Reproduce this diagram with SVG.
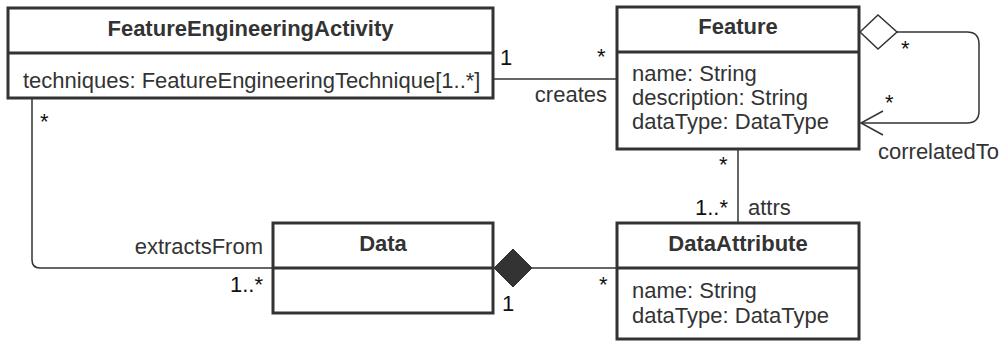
<svg xmlns="http://www.w3.org/2000/svg" width="1001" height="341" viewBox="0 0 1001 341">
<style>
.box{fill:#fff;stroke:#333;stroke-width:3}
.div{stroke:#333;stroke-width:3}
.t{font-family:"Liberation Sans",Arial,sans-serif;font-size:22px;fill:#333}
.b{font-weight:bold}
.m{font-family:"Liberation Sans",Arial,sans-serif;font-size:22px;fill:#111}
.c{fill:none;stroke:#333;stroke-width:1.5}
</style>
<rect width="1001" height="341" fill="#fff"/>
<g id="connectors">
<path class="c" d="M493 79 H617"/>
<path class="c" d="M32 99 V260 Q32 268 40 268 H273"/>
<path class="c" d="M532 268 H617"/>
<path d="M494 268 L513 249 L532 268 L513 287 Z" fill="#333" stroke="#333" stroke-width="1"/>
<path class="c" d="M738 150 V223"/>
<path class="c" d="M897 32 H967 Q979 32 979 44 V111 Q979 123 967 123 H861"/>
<path class="c" d="M883 111 L861 123 L883 135"/>
<path d="M860 32 L878 15 L897 32 L878 49 Z" fill="#fff" stroke="#333" stroke-width="1.5"/>
<text class="m" x="500" y="65">1</text>
<text class="m" x="597" y="64">*</text>
<text class="t" x="607" y="102" text-anchor="end">creates</text>
<text class="m" x="40" y="129">*</text>
<text class="t" x="263" y="254" text-anchor="end">extractsFrom</text>
<text class="m" x="263" y="292" text-anchor="end">1..*</text>
<text class="m" x="502" y="311">1</text>
<text class="m" x="599" y="292">*</text>
<text class="m" x="719" y="172">*</text>
<text class="m" x="728" y="215" text-anchor="end">1..*</text>
<text class="t" x="748" y="215">attrs</text>
<text class="m" x="901" y="56">*</text>
<text class="m" x="885" y="110">*</text>
<text class="t" x="878" y="159">correlatedTo</text>
</g>
<g id="FeatureEngineeringActivity">
<rect class="box" x="8" y="8" width="485" height="90"/>
<line class="div" x1="8" y1="53" x2="493" y2="53"/>
<text class="t b" x="250.5" y="36" text-anchor="middle">FeatureEngineeringActivity</text>
<text class="t" x="23" y="88">techniques: FeatureEngineeringTechnique[1..*]</text>
</g>
<g id="Feature">
<rect class="box" x="617" y="7" width="242" height="142"/>
<line class="div" x1="617" y1="52" x2="859" y2="52"/>
<text class="t b" x="738" y="34" text-anchor="middle">Feature</text>
<text class="t" x="632" y="81">name: String</text>
<text class="t" x="632" y="105">description: String</text>
<text class="t" x="632" y="129">dataType: DataType</text>
</g>
<g id="Data">
<rect class="box" x="273" y="223" width="220" height="90"/>
<line class="div" x1="273" y1="268" x2="493" y2="268"/>
<text class="t b" x="383" y="251" text-anchor="middle">Data</text>
</g>
<g id="DataAttribute">
<rect class="box" x="617" y="223" width="242" height="116"/>
<line class="div" x1="617" y1="268" x2="859" y2="268"/>
<text class="t b" x="738" y="251" text-anchor="middle">DataAttribute</text>
<text class="t" x="632" y="298">name: String</text>
<text class="t" x="632" y="323">dataType: DataType</text>
</g>
</svg>
